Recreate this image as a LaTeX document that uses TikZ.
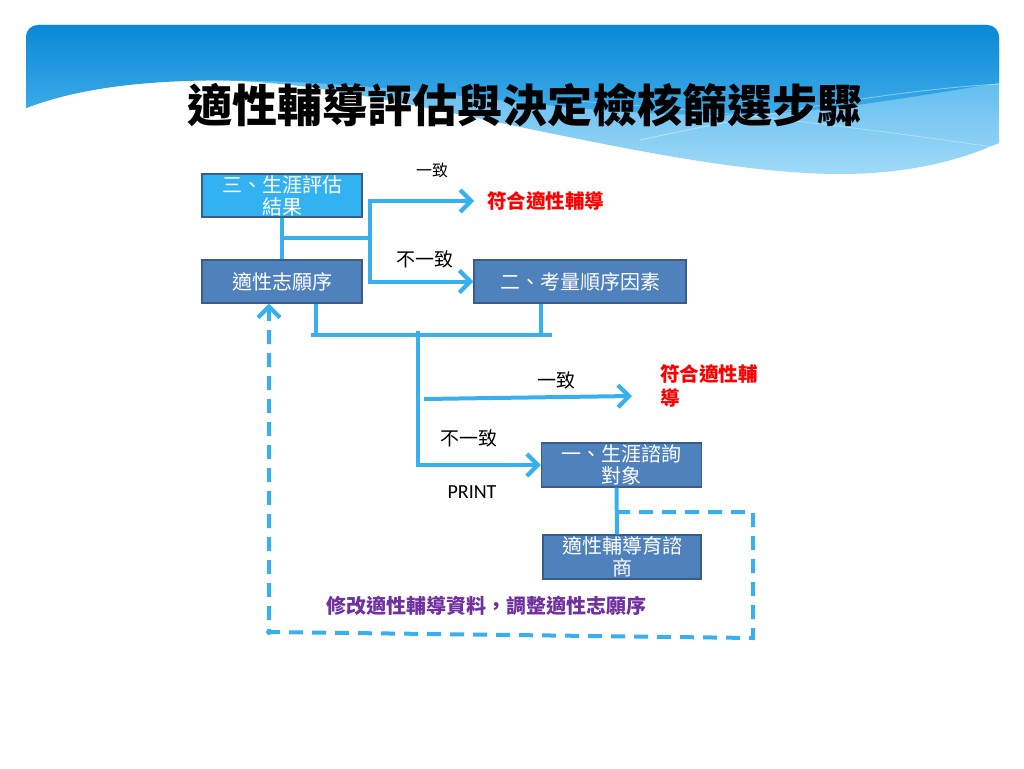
\documentclass[tikz,border=0pt]{standalone}
\usepackage{fontspec}
\newfontfamily\cjk{Noto Sans CJK TC}
\newfontfamily\latin{Carlito}
\usepackage{tikz}
\usetikzlibrary{arrows.meta}

\definecolor{flowblue}{RGB}{56,176,240}
\definecolor{boxblue}{RGB}{79,129,189}
\definecolor{boxedge}{RGB}{56,93,138}
\definecolor{resblue}{RGB}{51,178,242}
\definecolor{hdrdark}{RGB}{10,137,214}
\definecolor{hdrmid}{RGB}{62,172,233}
\definecolor{hdrlight}{RGB}{160,218,248}
\definecolor{okred}{RGB}{255,0,0}
\definecolor{notepurple}{RGB}{112,48,160}

\tikzset{
  stepbox/.style={draw=boxedge, line width=1.3pt, fill=boxblue, text=white, minimum height=43pt,
    inner sep=0pt, align=center, font=\cjk\fontsize{20}{22}\selectfont},
  flow/.style={draw=flowblue, line width=4pt},
  loopline/.style={flow, dash pattern=on 14pt off 9pt},
  tag/.style={inner sep=0pt, font=\cjk\fontsize{19}{21}\selectfont},
  redtag/.style={tag, text=okred, font=\cjk\bfseries\fontsize{19.5}{24}\selectfont}
}

\begin{document}
\begin{tikzpicture}[x=1pt, y=-1pt, >={Straight Barb[length=11pt,width=22pt,line width=4.2pt]}]
  \useasboundingbox (0,0) rectangle (1024,768);

  % header band
  \shade[top color=hdrmid, bottom color=hdrlight] (26,108) -- (26,37) arc (180:90:12pt) -- (987,25) arc (90:0:12pt) -- (999,143)
     .. controls (960,160) and (910,174) .. (840,174)
     .. controls (700,174) and (500,118) .. (330,90)
     .. controls (220,74) and (110,76) .. (26,108) -- cycle;
  \shade[top color=hdrdark, bottom color=hdrmid] (26,108) -- (26,37) arc (180:90:12pt) -- (987,25) arc (90:0:12pt) -- (999,83)
     .. controls (920,95) and (820,115) .. (720,115)
     .. controls (580,115) and (460,92) .. (330,84)
     .. controls (200,76) and (100,80) .. (26,108) -- cycle;
  \draw[white, opacity=0.45, line width=0.8pt] (640,140) .. controls (780,110) and (900,90) .. (999,84);
  \draw[white, opacity=0.35, line width=0.8pt] (560,100) .. controls (720,110) and (880,130) .. (999,148);
  \node[font=\cjk\bfseries\fontsize{45}{50}\selectfont, inner sep=0pt] (title) at (525,105) {適性輔導評估與決定檢核篩選步驟};

  % boxes
  \node[stepbox, fill=resblue, minimum width=160pt] (res) at (282,195.5) {三、生涯評估\\結果};
  \node[stepbox, minimum width=160pt] (wish) at (282,281.5) {適性志願序};
  \node[stepbox, minimum width=212pt] (order) at (580,281.5) {二、考量順序因素};
  \node[stepbox, minimum width=160pt, minimum height=44pt] (consult) at (621.5,465) {一、生涯諮詢\\對象};
  \node[stepbox, minimum width=158pt, minimum height=44pt] (couns) at (622,557) {適性輔導育諮\\商};

  % labels
  \node[tag, font=\cjk\fontsize{16}{18}\selectfont] (ok1) at (432,170) {一致};
  \node[tag] (diff1) at (425,259) {不一致};
  \node[tag] (ok2) at (556,380) {一致};
  \node[tag] (diff2) at (469,438) {不一致};
  \node[inner sep=0pt, font=\latin\fontsize{20}{22}\selectfont] (print) at (472,492) {PRINT};
  \node[redtag, anchor=west, inner xsep=13pt] (fit1) at (474,201) {符合適性輔導};
  \node[redtag, anchor=west, align=left] (fit2) at (660,386) {符合適性輔\\導};
  \node[tag, text=notepurple, font=\cjk\bfseries\fontsize{20}{22}\selectfont] (note) at (486,606) {修改適性輔導資料，調整適性志願序};

  % upper fork
  \coordinate (fork) at (370,238);
  \draw[flow] (res.south) -- (wish.north);
  \draw[flow] (res.south |- fork) -- (fork);
  \draw[flow,->] (fork) |- (fit1.west);
  \draw[flow,->] (fork) |- (order.west);

  % lower fork
  \coordinate (barL) at (311,335);
  \coordinate (barR) at (552,335);
  \coordinate (stem) at (418,331);
  \coordinate (br2) at (424,399);
  \coordinate (tip2) at (632,396);
  \draw[flow] (barL) -- (barR);
  \draw[flow] ([xshift=34pt]wish.south) -- ([xshift=34pt]wish.south |- barL);
  \draw[flow] ([xshift=-39pt]order.south) -- ([xshift=-39pt]order.south |- barR);
  \draw[flow,->] (stem) |- (consult.west);
  \draw[flow,->] (br2) -- (tip2);
  \draw[flow] ([xshift=-5pt]consult.south) -- ([xshift=-5pt]couns.north);

  % dashed way back
  \coordinate (lpA) at (616,512);
  \coordinate (lpB) at (753,512);
  \coordinate (lpC) at (753,638);
  \coordinate (lpD) at (269,632);
  \draw[loopline,->] (lpA) -- (lpB) -- (lpC) -- (lpD) -- (lpD |- wish.south);
  \fill[flowblue] (lpD) circle (3pt);
\end{tikzpicture}
\end{document}
